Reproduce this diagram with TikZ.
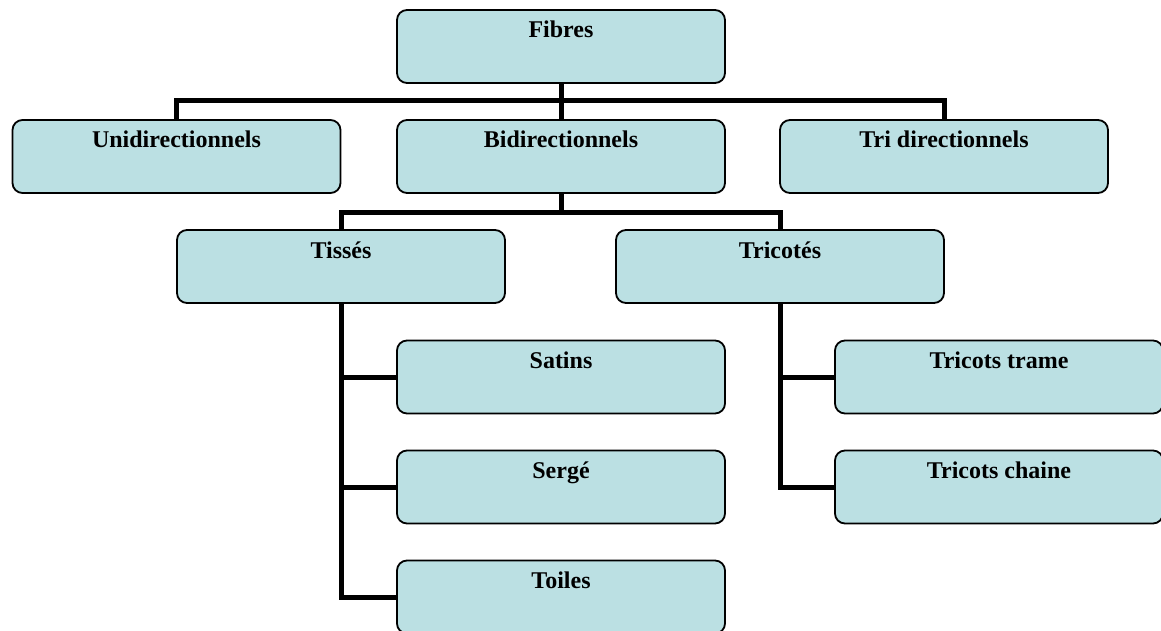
\documentclass[tikz,border=0pt]{standalone}
\usepackage{fontspec}
\setmainfont{Liberation Serif}
\definecolor{boxfill}{RGB}{187,224,227}
\tikzset{
  box/.style={draw=black, line width=1.8pt, fill=boxfill, rounded corners=10pt,
    minimum width=328pt, inner sep=0pt, text height=28pt, text depth=45pt,
    font=\fontsize{24}{28}\selectfont\bfseries},
  conn/.style={draw=black, line width=5pt}
}
\begin{document}
\begin{tikzpicture}[x=1pt,y=-1pt]
\useasboundingbox (0,0) rectangle (1161,631);
\clip (0,0) rectangle (1161,631);
\coordinate (bar1) at (561,101);
\coordinate (bar2) at (561,212);
\node[box] (fib) at (561,46.5) {Fibres};
\node[box] (uni) at (176.5,156.5) {Unidirectionnels};
\node[box] (bi) at (561,156.5) {Bidirectionnels};
\node[box] (tri) at (944,156.5) {Tri directionnels};
\node[box] (tis) at (341,266.5) {Tissés};
\node[box] (tco) at (780,266.5) {Tricotés};
\node[box] (sat) at (561,377) {Satins};
\node[box] (ser) at (561,487) {Sergé};
\node[box] (toi) at (561,597) {Toiles};
\node[box] (ttr) at (999,377) {Tricots trame};
\node[box] (tch) at (999,487) {Tricots chaine};
\draw[conn] (fib.south) -- (bar1);
\draw[conn] (uni.north) |- (bar1) -| (tri.north);
\draw[conn] (bar1) -- (bi.north);
\draw[conn] (bi.south) -- (bar2);
\draw[conn] (tis.north) |- (bar2) -| (tco.north);
\draw[conn] (tis.south) |- (toi.west);
\draw[conn] (tis.south |- sat.west) -- (sat.west);
\draw[conn] (tis.south |- ser.west) -- (ser.west);
\draw[conn] (tco.south) |- (tch.west);
\draw[conn] (tco.south |- ttr.west) -- (ttr.west);
\end{tikzpicture}
\end{document}
